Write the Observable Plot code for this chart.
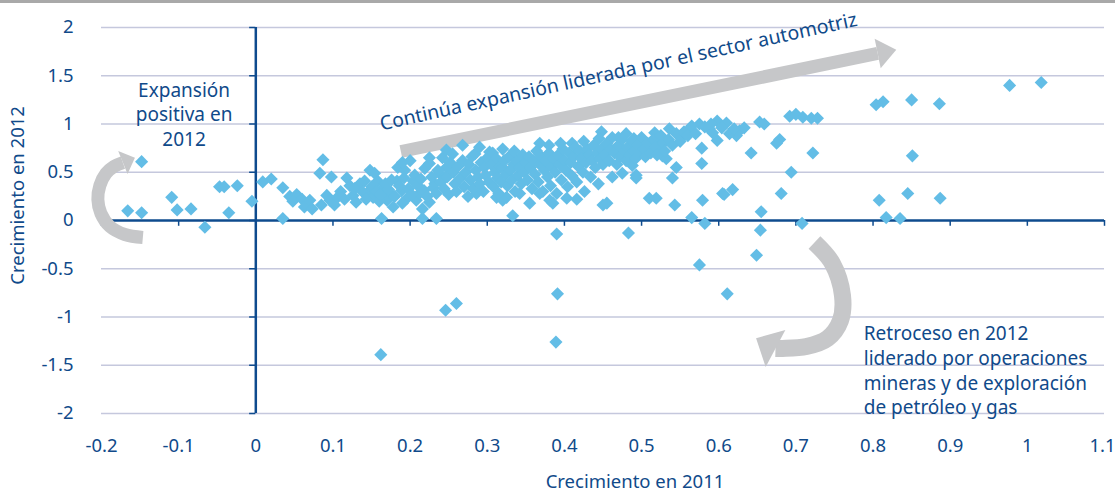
<!DOCTYPE html>
<html><head><meta charset="utf-8">
<script src="https://cdn.jsdelivr.net/npm/d3@7"></script>
<script src="https://cdn.jsdelivr.net/npm/@observablehq/plot@0.6"></script>
<style>
html,body{margin:0;padding:0;background:#fff;}
#wrap{position:relative;width:1115px;height:493px;overflow:hidden;}
#topbar{position:absolute;left:0;top:0;width:1115px;height:3px;background:#a9a9a9;z-index:2;}
</style></head><body><div id="wrap"><div id="topbar"></div></div>
<script>
// Tick values
const xTicks = [-0.2,-0.1,0,0.1,0.2,0.3,0.4,0.5,0.6,0.7,0.8,0.9,1.0,1.1];
const yTicks = [-2,-1.5,-1,-0.5,0,0.5,1,1.5,2];

// Points: [crecimiento 2011, crecimiento 2012]
const leftPoints = [[-0.166,0.10],[-0.148,0.08],[-0.148,0.61],[-0.109,0.24],[-0.102,0.11],[-0.084,0.12],[-0.066,-0.07],[-0.047,0.35],[-0.041,0.35],[-0.024,0.36],[-0.035,0.08],[-0.005,0.20],[0.009,0.40],[0.020,0.43],[0.035,0.34],[0.035,0.02],[0.044,0.25],[0.053,0.27],[0.048,0.20],[0.060,0.22],[0.063,0.14],[0.070,0.21],[0.073,0.12],[0.087,0.63],[0.083,0.49],[0.098,0.45],[0.085,0.16],[0.092,0.26],[0.096,0.21],[0.102,0.16],[0.106,0.24]];
const negativePoints = [[0.162,-1.39],[0.246,-0.93],[0.260,-0.86],[0.391,-0.76],[0.389,-1.26],[0.390,-0.14],[0.483,-0.13],[0.575,-0.46],[0.611,-0.76],[0.649,-0.36],[0.654,-0.10],[0.655,0.09],[0.708,-0.03],[0.582,-0.03],[0.565,0.03],[0.333,0.05],[0.163,0.02],[0.216,0.02],[0.234,0.02]];
const rightPoints = [[0.977,1.40],[1.018,1.43],[0.804,1.20],[0.813,1.23],[0.850,1.25],[0.886,1.21],[0.851,0.67],[0.808,0.21],[0.817,0.03],[0.835,0.02],[0.845,0.28],[0.887,0.23],[0.692,1.08],[0.700,1.10],[0.709,1.07],[0.720,1.06],[0.728,1.06],[0.653,1.02],[0.659,1.00],[0.679,0.84],[0.675,0.80],[0.722,0.70],[0.694,0.50],[0.681,0.28],[0.642,0.70],[0.618,0.32],[0.607,0.27],[0.579,0.21],[0.543,0.16],[0.510,0.23],[0.519,0.23],[0.578,0.59],[0.578,0.75],[0.540,0.44],[0.545,0.55]];
const upperPoints = [[0.536,0.95],[0.552,0.86],[0.562,0.95],[0.575,1.00],[0.588,0.95],[0.598,1.03],[0.610,1.01],[0.598,0.83],[0.592,0.91],[0.614,0.90],[0.627,0.93],[0.633,0.96],[0.623,0.88],[0.490,0.85],[0.501,0.81],[0.517,0.91],[0.510,0.75],[0.523,0.78],[0.527,0.67],[0.532,0.64],[0.493,0.44],[0.488,0.57],[0.448,0.92],[0.450,0.16],[0.455,0.18],[0.605,0.28],[0.416,0.22],[0.403,0.23],[0.381,0.21],[0.368,0.28],[0.429,0.67],[0.410,0.80],[0.470,0.86],[0.480,0.90],[0.462,0.45],[0.475,0.49],[0.493,0.47],[0.303,0.71],[0.368,0.80],[0.385,0.18],[0.355,0.18],[0.342,0.28],[0.325,0.24],[0.312,0.24],[0.286,0.28],[0.320,0.21]];
const clusterA = [[0.118,0.44],[0.122,0.36],[0.126,0.26],[0.130,0.19],[0.135,0.38],[0.141,0.41],[0.148,0.52],[0.154,0.49],[0.145,0.29],[0.152,0.24],[0.158,0.41],[0.165,0.34],[0.170,0.21],[0.174,0.28],[0.178,0.14],[0.183,0.41],[0.184,0.55],[0.189,0.31],[0.193,0.52],[0.196,0.23],[0.200,0.62],[0.204,0.41],[0.208,0.21],[0.212,0.28],[0.219,0.54],[0.225,0.59],[0.225,0.19],[0.232,0.38],[0.238,0.49],[0.242,0.65],[0.247,0.55],[0.110,0.30],[0.115,0.22],[0.128,0.33],[0.138,0.30],[0.143,0.22],[0.150,0.35],[0.156,0.30],[0.160,0.20],[0.162,0.27],[0.168,0.38],[0.172,0.32],[0.176,0.42],[0.180,0.25],[0.186,0.36],[0.190,0.18],[0.192,0.44],[0.198,0.33],[0.202,0.27],[0.206,0.47],[0.210,0.36],[0.214,0.43],[0.216,0.12],[0.218,0.31],[0.222,0.25],[0.228,0.45],[0.230,0.34],[0.234,0.28],[0.236,0.52],[0.240,0.40],[0.244,0.33],[0.248,0.45],[0.250,0.27],[0.190,0.60],[0.225,0.65],[0.247,0.73]];
const clusterB = [[0.252,0.60],[0.255,0.69],[0.256,0.50],[0.258,0.38],[0.260,0.30],[0.262,0.56],[0.265,0.44],[0.268,0.78],[0.268,0.62],[0.270,0.35],[0.272,0.50],[0.275,0.25],[0.276,0.58],[0.278,0.42],[0.280,0.66],[0.282,0.33],[0.284,0.69],[0.285,0.52],[0.288,0.45],[0.290,0.76],[0.290,0.38],[0.292,0.60],[0.295,0.30],[0.296,0.55],[0.298,0.47],[0.300,0.65],[0.302,0.40],[0.305,0.58],[0.307,0.70],[0.308,0.35],[0.310,0.50],[0.312,0.64],[0.313,0.44],[0.315,0.28],[0.316,0.56],[0.318,0.40],[0.320,0.55],[0.322,0.62],[0.324,0.48],[0.326,0.36],[0.328,0.66],[0.330,0.52],[0.332,0.42],[0.334,0.58],[0.336,0.30],[0.338,0.62],[0.340,0.47],[0.342,0.55],[0.344,0.38],[0.346,0.68],[0.348,0.50],[0.350,0.60],[0.320,0.74],[0.335,0.72]];
const clusterC = [[0.352,0.42],[0.354,0.66],[0.356,0.55],[0.358,0.33],[0.360,0.62],[0.362,0.48],[0.364,0.72],[0.366,0.40],[0.368,0.58],[0.370,0.66],[0.372,0.30],[0.374,0.52],[0.376,0.62],[0.378,0.45],[0.380,0.70],[0.382,0.36],[0.384,0.56],[0.386,0.64],[0.388,0.50],[0.390,0.28],[0.392,0.68],[0.394,0.58],[0.396,0.42],[0.398,0.74],[0.400,0.62],[0.402,0.52],[0.404,0.35],[0.406,0.70],[0.408,0.60],[0.410,0.46],[0.412,0.66],[0.414,0.76],[0.416,0.40],[0.418,0.56],[0.420,0.72],[0.422,0.64],[0.424,0.50],[0.426,0.30],[0.428,0.60],[0.430,0.74],[0.432,0.68],[0.434,0.45],[0.436,0.62],[0.438,0.78],[0.440,0.55],[0.442,0.70],[0.444,0.38],[0.446,0.64],[0.448,0.74],[0.450,0.58],[0.380,0.78],[0.395,0.80],[0.425,0.82],[0.445,0.85]];
const clusterD = [[0.452,0.68],[0.455,0.80],[0.458,0.62],[0.460,0.74],[0.462,0.86],[0.465,0.70],[0.468,0.58],[0.470,0.78],[0.472,0.66],[0.475,0.84],[0.478,0.72],[0.480,0.62],[0.482,0.76],[0.485,0.68],[0.488,0.82],[0.490,0.72],[0.492,0.64],[0.495,0.78],[0.498,0.70],[0.500,0.86],[0.503,0.74],[0.505,0.66],[0.508,0.80],[0.512,0.70],[0.515,0.84],[0.518,0.76],[0.520,0.68],[0.525,0.88],[0.528,0.80],[0.530,0.72],[0.535,0.84],[0.540,0.78],[0.545,0.90],[0.550,0.82],[0.555,0.92],[0.560,0.88],[0.565,0.98],[0.570,0.90],[0.582,0.97],[0.590,1.00],[0.604,0.96],[0.620,0.95]];

const points = [...leftPoints, ...negativePoints, ...rightPoints, ...upperPoints, ...clusterA, ...clusterB, ...clusterC, ...clusterD]
  .map(([g2011, g2012]) => ({g2011, g2012}));

// Annotation texts
const noteLeft = "Expansión\npositiva en\n2012";
const noteRight = "Retroceso en 2012\nliderado por operaciones\nmineras y de exploración\nde petróleo y gas";
const noteTop = "Continúa expansión liderada por el sector automotriz";
const xLabel = "Crecimiento en 2011";
const yLabel = "Crecimiento en 2012";

// Annotation arrow paths (data units)
const arrowStraight = [[0.188,0.715],[0.806,1.731]];
const arrowLeft = [[-0.1464,-0.176],[-0.1697,-0.145],[-0.1891,-0.062],[-0.2008,0.073],[-0.2047,0.218],[-0.2021,0.363],[-0.1943,0.487],[-0.1839,0.560],[-0.1723,0.601]];
const arrowRight = [[0.7241,-0.228],[0.7474,-0.446],[0.7604,-0.777],[0.7578,-1.036],[0.7409,-1.223],[0.7137,-1.306],[0.6826,-1.326],[0.6736,-1.326]];

const navy = "#0e4b8e";
const textNavy = "#104a8a";
const grey = "#c6c7c9";
const dotColor = "#63bde6";
const grid = "#c5c8dd";
const fmt = d => String(Math.round(d * 10) / 10);

function head(w, h) {
  return {draw(ctx) { ctx.moveTo(0, -h); ctx.lineTo(w / 2, 0); ctx.lineTo(-w / 2, 0); ctx.closePath(); }};
}
const last = a => a[a.length - 1];
const lastTick = xTicks[xTicks.length - 1];

const chart = Plot.plot({
  width: 1115, height: 493,
  marginLeft: 101, marginRight: 11, marginTop: 27, marginBottom: 80,
  style: {fontFamily: "'Noto Sans', sans-serif", fontSize: "18.5px", color: textNavy, background: "white", overflow: "visible"},
  x: {domain: [-0.2, 1.1]},
  y: {domain: [-2, 2]},
  marks: [
    Plot.ruleY(yTicks.filter(d => d !== 0), {stroke: grid, strokeWidth: 1.5}),
    Plot.ruleX([0], {y1: -2, y2: 2, stroke: navy, strokeWidth: 2.5}),
    Plot.ruleY([0], {stroke: navy, strokeWidth: 2.5}),
    Plot.ruleX(xTicks, {x: d => d, y1: 0, y2: -0.06, stroke: navy, strokeWidth: 1.5}),
    Plot.ruleY(yTicks, {y: d => d, x1: -0.008, x2: 0, stroke: navy, strokeWidth: 1.5}),
    Plot.axisX({ticks: xTicks.slice(0, -1), tickFormat: fmt, tickSize: 0, tickPadding: 25, label: null, fontSize: 18.5, fill: textNavy}),
    Plot.axisX({ticks: [lastTick], tickFormat: fmt, tickSize: 0, tickPadding: 25, label: null, fontSize: 18.5, fill: textNavy, textAnchor: "end", dx: 11}),
    Plot.axisY({ticks: yTicks, tickFormat: fmt, tickSize: 0, tickPadding: 28, label: null, fontSize: 18.5, fill: textNavy}),
    Plot.line(arrowStraight, {x: d => d[0], y: d => d[1], stroke: grey, strokeWidth: 13, strokeLinecap: "butt"}),
    Plot.dot([last(arrowStraight)], {x: d => d[0], y: d => d[1], symbol: head(30, 19), r: 5, fill: grey, rotate: 78.4}),
    Plot.line(arrowLeft, {x: d => d[0], y: d => d[1], stroke: grey, strokeWidth: 13, strokeLinecap: "butt", curve: "catmull-rom"}),
    Plot.dot([last(arrowLeft)], {x: d => d[0], y: d => d[1], symbol: head(25, 13), r: 5, fill: grey, rotate: 68}),
    Plot.line(arrowRight, {x: d => d[0], y: d => d[1], stroke: grey, strokeWidth: 17, strokeLinecap: "butt", curve: "catmull-rom"}),
    Plot.dot([last(arrowRight)], {x: d => d[0], y: d => d[1], symbol: head(42, 22), r: 5, fill: grey, rotate: -62}),
    Plot.dot(points, {x: "g2011", y: "g2012", symbol: "diamond2", r: 5.9, fill: dotColor}),
    Plot.text([noteLeft], {x: [-0.093], y: [1.109], text: d => d, fontSize: 19, lineHeight: 1.3, fill: textNavy, textAnchor: "middle"}),
    Plot.text([noteRight], {x: [0.788], y: [-1.544], text: d => d, fontSize: 19, lineHeight: 1.3, fill: textNavy, textAnchor: "start"}),
    Plot.text([noteTop], {x: [0.47], y: [1.54], text: d => d, fontSize: 19.5, fill: textNavy, rotate: -12.4}),
    Plot.text([xLabel], {frameAnchor: "bottom", dx: 32, dy: 69, text: d => d, fontSize: 18.5, fill: textNavy, lineAnchor: "middle", textAnchor: "middle"}),
    Plot.text([yLabel], {frameAnchor: "left", y: [0.26], dx: -83, text: d => d, fontSize: 18.5, fill: textNavy, rotate: -90, textAnchor: "middle", lineAnchor: "middle"})
  ]
});
document.getElementById("wrap").prepend(chart);
</script></body></html>
